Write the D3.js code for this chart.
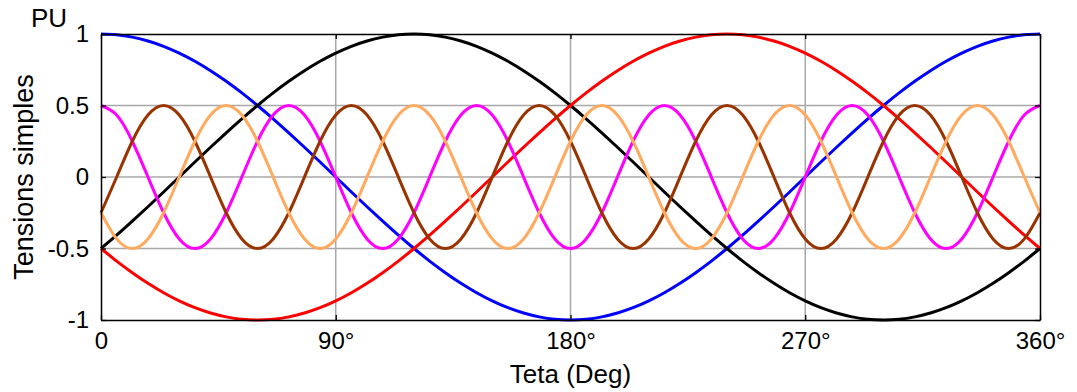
<!DOCTYPE html>
<html>
<head>
<meta charset="utf-8">
<script src="https://cdn.jsdelivr.net/npm/d3@7"></script>
<style>
  html, body { margin: 0; padding: 0; background: #fff; }
  svg { display: block; }
  text { font-family: "Liberation Sans", Arial, sans-serif; fill: #000; }
</style>
</head>
<body>
<svg id="chart" width="1077" height="392"></svg>
<script>
// Angles (degrees), sampled every 6°
const teta = d3.range(0, 361, 6);

const xTicks = [0, 90, 180, 270, 360];
const xTickLabels = ["0", "90°", "180°", "270°", "360°"];
const yTicks = [1, 0.5, 0, -0.5, -1];
const yTickLabels = ["1", "0.5", "0", "-0.5", "-1"];

// Series values (PU)
const blue = [1, .995, .978, .951, .914, .866, .809, .743, .669, .588, .5, .407, .309, .208, .105, 0, -.105, -.208, -.309, -.407,
  -.5, -.588, -.669, -.743, -.809, -.866, -.914, -.951, -.978, -.995, -1, -.995, -.978, -.951, -.914, -.866, -.809, -.743, -.669, -.588,
  -.5, -.407, -.309, -.208, -.105, 0, .105, .208, .309, .407, .5, .588, .669, .743, .809, .866, .914, .951, .978, .995, 1];
const black = [-.5, -.407, -.309, -.208, -.105, 0, .105, .208, .309, .407, .5, .588, .669, .743, .809, .866, .914, .951, .978, .995,
  1, .995, .978, .951, .914, .866, .809, .743, .669, .588, .5, .407, .309, .208, .105, 0, -.105, -.208, -.309, -.407,
  -.5, -.588, -.669, -.743, -.809, -.866, -.914, -.951, -.978, -.995, -1, -.995, -.978, -.951, -.914, -.866, -.809, -.743, -.669, -.588, -.5];
const red = [-.5, -.588, -.669, -.743, -.809, -.866, -.914, -.951, -.978, -.995, -1, -.995, -.978, -.951, -.914, -.866, -.809, -.743, -.669, -.588,
  -.5, -.407, -.309, -.208, -.105, 0, .105, .208, .309, .407, .5, .588, .669, .743, .809, .866, .914, .951, .978, .995,
  1, .995, .978, .951, .914, .866, .809, .743, .669, .588, .5, .407, .309, .208, .105, 0, -.105, -.208, -.309, -.407, -.5];
const magenta = [.5, .433, .25, 0, -.25, -.433, -.5, -.433, -.25, 0, .25, .433,
  .5, .433, .25, 0, -.25, -.433, -.5, -.433, -.25, 0, .25, .433,
  .5, .433, .25, 0, -.25, -.433, -.5, -.433, -.25, 0, .25, .433,
  .5, .433, .25, 0, -.25, -.433, -.5, -.433, -.25, 0, .25, .433,
  .5, .433, .25, 0, -.25, -.433, -.5, -.433, -.25, 0, .25, .433, .5];
const brown = [-.25, 0, .25, .433, .5, .433, .25, 0, -.25, -.433, -.5, -.433,
  -.25, 0, .25, .433, .5, .433, .25, 0, -.25, -.433, -.5, -.433,
  -.25, 0, .25, .433, .5, .433, .25, 0, -.25, -.433, -.5, -.433,
  -.25, 0, .25, .433, .5, .433, .25, 0, -.25, -.433, -.5, -.433,
  -.25, 0, .25, .433, .5, .433, .25, 0, -.25, -.433, -.5, -.433, -.25];
const orange = [-.25, -.433, -.5, -.433, -.25, 0, .25, .433, .5, .433, .25, 0,
  -.25, -.433, -.5, -.433, -.25, 0, .25, .433, .5, .433, .25, 0,
  -.25, -.433, -.5, -.433, -.25, 0, .25, .433, .5, .433, .25, 0,
  -.25, -.433, -.5, -.433, -.25, 0, .25, .433, .5, .433, .25, 0,
  -.25, -.433, -.5, -.433, -.25, 0, .25, .433, .5, .433, .25, 0, -.25];

const seriesNames = ["blue", "black", "red", "magenta", "brown", "orange"];
const seriesValues = [blue, black, red, magenta, brown, orange];
const seriesColors = ["#0000ff", "#000000", "#ff0000", "#ff00ff", "#993300", "#ffaa5e"];

const margin = { left: 101, top: 34, right: 1077 - 1040, bottom: 392 - 320 };
const W = 1077, H = 392;
const svg = d3.select("#chart");

const x = d3.scaleLinear().domain([0, 360]).range([margin.left, W - margin.right]);
const y = d3.scaleLinear().domain([-1, 1]).range([H - margin.bottom, margin.top]);

// Grid
const grid = svg.append("g");
grid.selectAll("line.gx").data(xTicks.slice(1, -1)).join("line")
  .attr("x1", d => x(d)).attr("x2", d => x(d))
  .attr("y1", y(1)).attr("y2", y(-1))
  .attr("stroke", "#a8a8a8").attr("stroke-width", 1.5);
grid.selectAll("line.gy").data(yTicks.slice(1, -1)).join("line")
  .attr("y1", d => y(d)).attr("y2", d => y(d))
  .attr("x1", x(0)).attr("x2", x(360))
  .attr("stroke", "#a8a8a8").attr("stroke-width", 1.5);

// Lines
const line = d3.line().x((d, i) => x(teta[i])).y(d => y(d)).curve(d3.curveNatural);
svg.append("g").selectAll("path").data(seriesValues).join("path")
  .attr("d", d => line(d))
  .attr("fill", "none")
  .attr("stroke", (d, i) => seriesColors[i])
  .attr("stroke-width", 3)
  .attr("stroke-linejoin", "round");

// Axes (box with inward ticks)
const tickLen = 5;
const fmtX = (d, i) => xTickLabels[i];
const fmtY = (d, i) => yTickLabels[i];
const axB = svg.append("g").attr("transform", `translate(0,${y(-1)})`)
  .call(d3.axisBottom(x).tickValues(xTicks).tickFormat(fmtX).tickSizeInner(-tickLen).tickSizeOuter(0).tickPadding(12));
const axT = svg.append("g").attr("transform", `translate(0,${y(1)})`)
  .call(d3.axisTop(x).tickValues(xTicks).tickFormat("").tickSizeInner(-tickLen).tickSizeOuter(0));
const axL = svg.append("g").attr("transform", `translate(${x(0)},0)`)
  .call(d3.axisLeft(y).tickValues(yTicks).tickFormat(fmtY).tickSizeInner(-tickLen).tickSizeOuter(0).tickPadding(12));
const axR = svg.append("g").attr("transform", `translate(${x(360)},0)`)
  .call(d3.axisRight(y).tickValues(yTicks).tickFormat("").tickSizeInner(-tickLen).tickSizeOuter(0));
[axB, axT, axL, axR].forEach(a => {
  a.select(".domain").attr("stroke", "#000").attr("stroke-width", 1.5);
  a.selectAll(".tick line").attr("stroke", "#000").attr("stroke-width", 1.3);
  a.selectAll("text").style("font-family", "'Liberation Sans', Arial, sans-serif").style("font-size", "24px").attr("fill", "#000");
});
axB.selectAll(".tick text").attr("dy", "0.71em");

// Labels
svg.append("text").attr("x", (x(0) + x(360)) / 2).attr("y", 383)
  .attr("text-anchor", "middle").style("font-size", "26px").text("Teta (Deg)");
svg.append("text").attr("transform", `translate(33,${(y(1) + y(-1)) / 2}) rotate(-90)`)
  .attr("text-anchor", "middle").style("font-size", "27px").text("Tensions simples");
svg.append("text").attr("x", 49).attr("y", 27)
  .attr("text-anchor", "middle").style("font-size", "26px").text("PU");
</script>
</body>
</html>
